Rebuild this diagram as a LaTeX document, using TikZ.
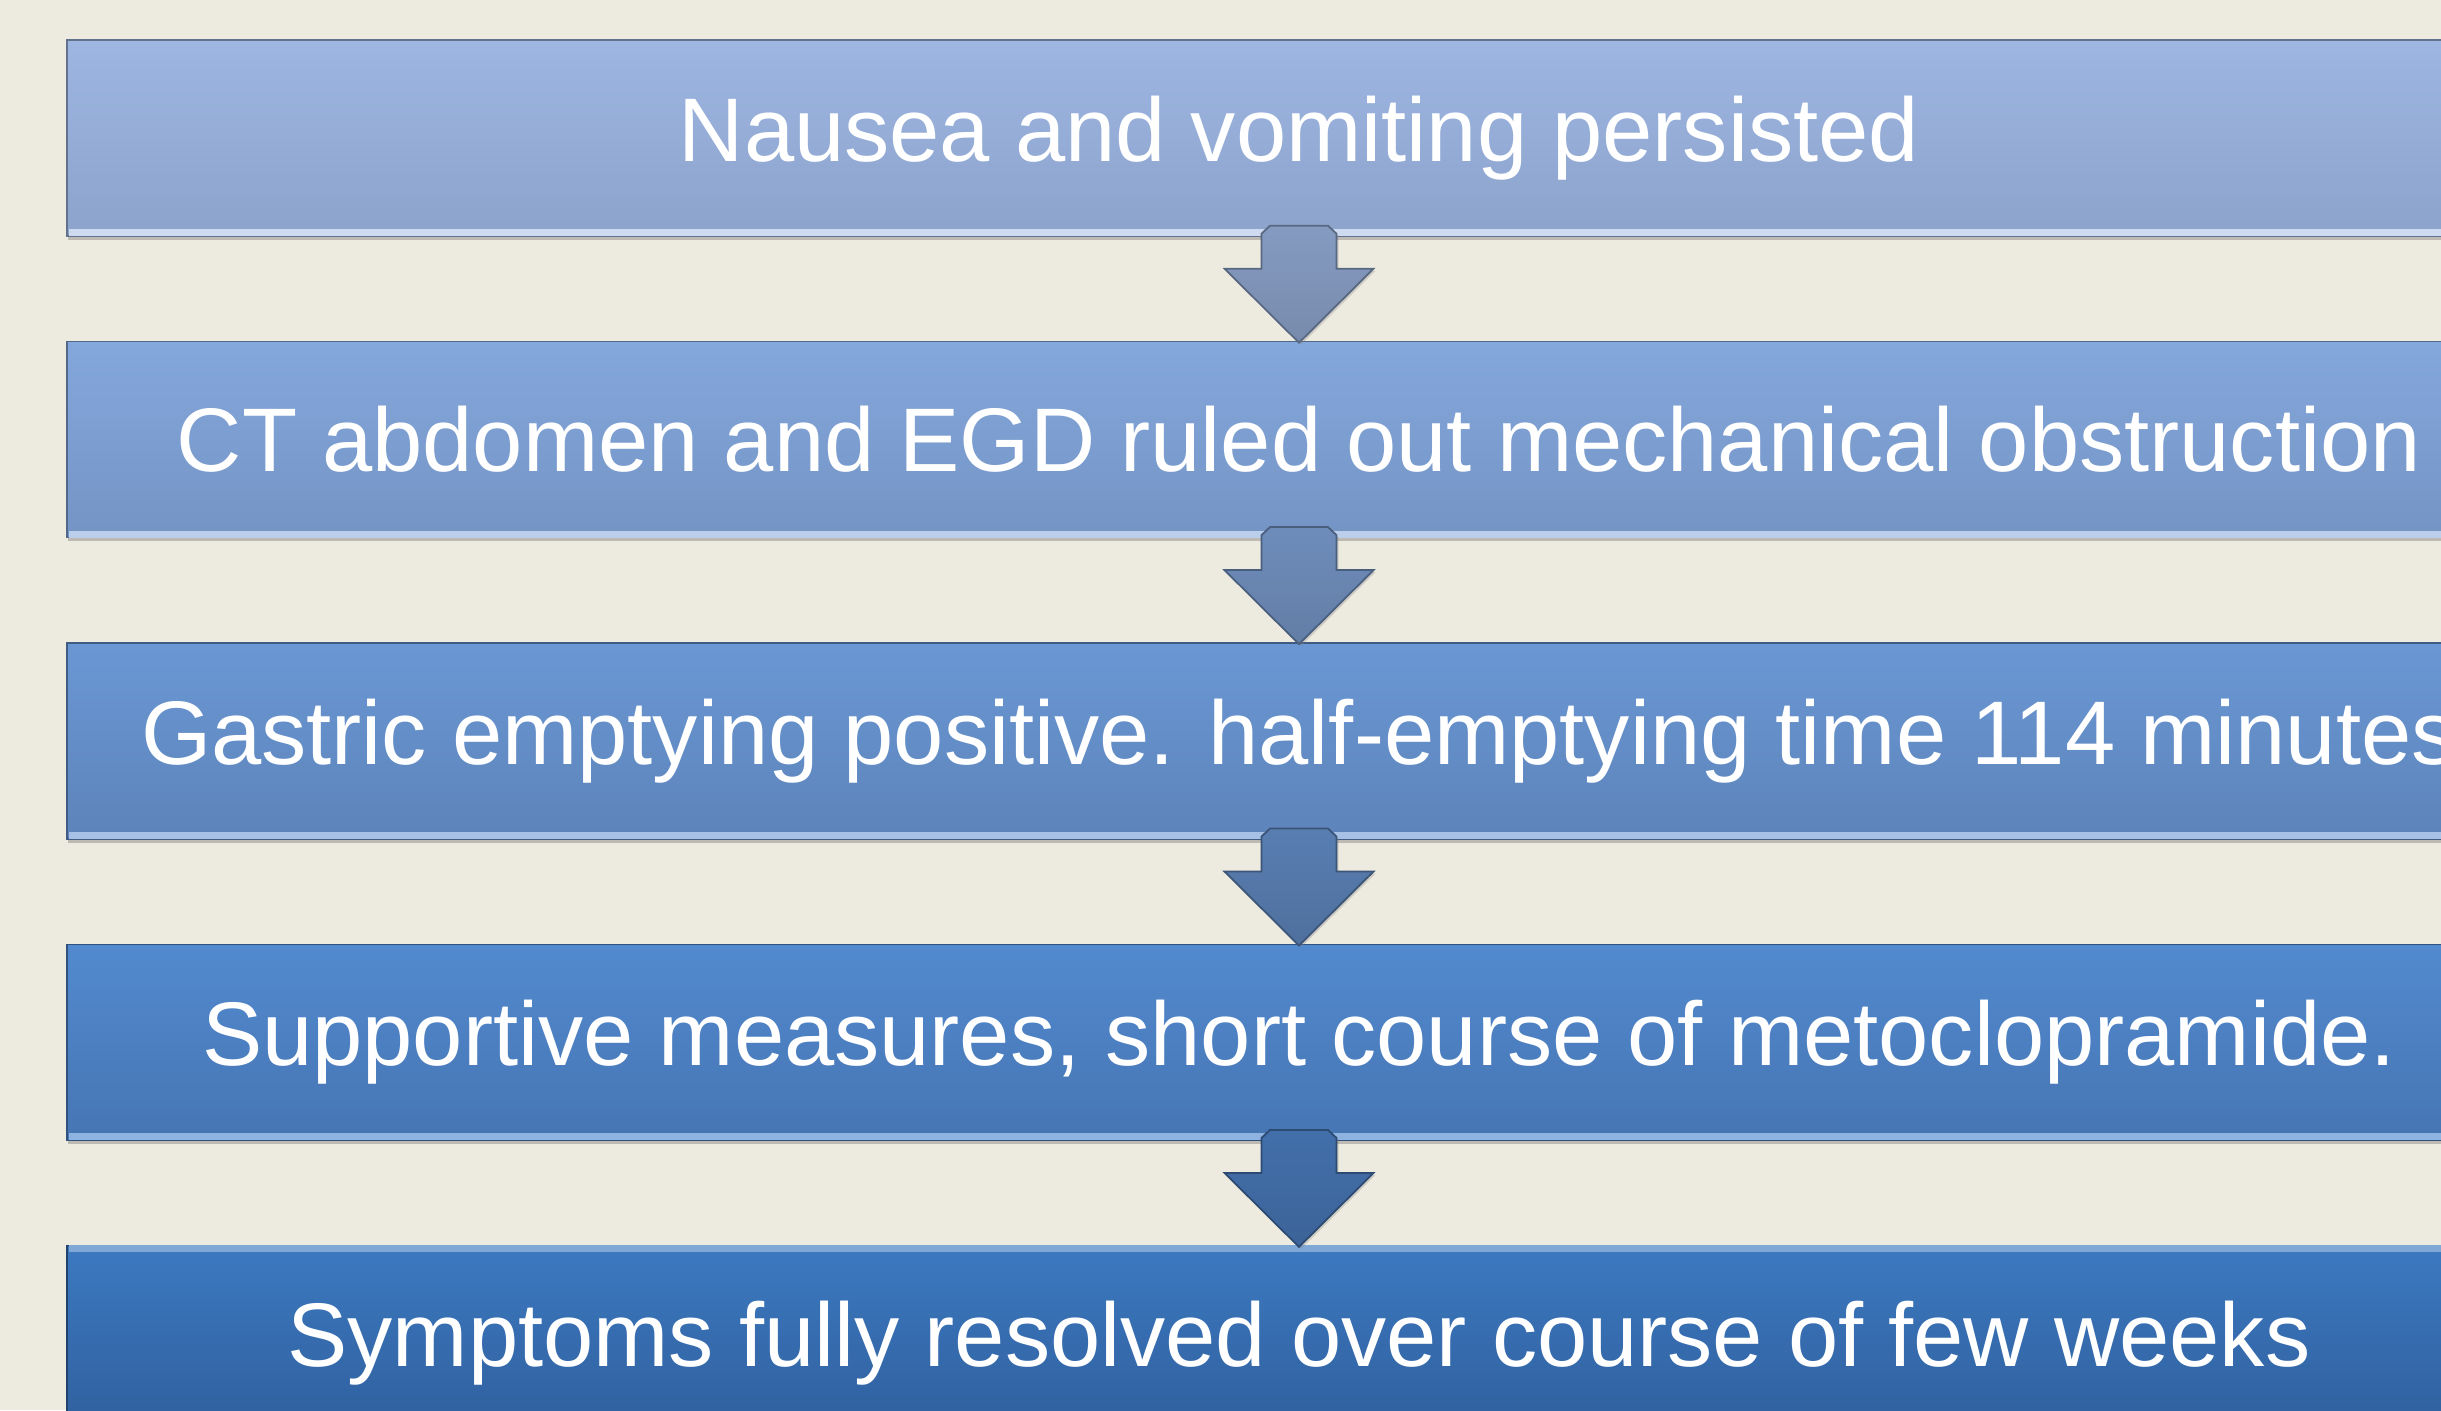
\documentclass[tikz,border=0pt]{standalone}
\usepackage{fontspec}
\setmainfont{Liberation Sans}
\usetikzlibrary{positioning}
\usetikzlibrary{calc}
\usetikzlibrary{shadows}
\definecolor{paper}{HTML}{EDEBE0}
\definecolor{topA}{HTML}{9DB6E2}
\definecolor{botA}{HTML}{8CA3CB}
\definecolor{topB}{HTML}{84A7DC}
\definecolor{botB}{HTML}{7494C4}
\definecolor{topC}{HTML}{6A97D4}
\definecolor{botC}{HTML}{5D84BA}
\definecolor{topD}{HTML}{528ACF}
\definecolor{botD}{HTML}{4675B3}
\definecolor{topE}{HTML}{3C79C0}
\definecolor{botE}{HTML}{2F5E9C}
\tikzset{%
  stage/.style = {rectangle,inner sep=0pt,text=white,
        minimum width=24.64cm,minimum height=1.96cm,
        font=\fontsize{25.7}{31}\selectfont,
        drop shadow={shadow xshift=0.01cm,shadow yshift=-0.04cm,
          opacity=0.3,fill=black!70}},
  shine/.style = {line width=2pt,line cap=butt}
}
% arrow between two stages: from, to, top colour, bottom colour
\newcommand{\stepdown}[4]{%
  \shade[top color=#3,bottom color=#4,draw=#4!75!black,line width=0.5pt,
      drop shadow={shadow xshift=0.02cm,shadow yshift=-0.02cm,opacity=0.3}]
    ($(#1.south)+(-0.29,0.11)$) -- ($(#1.south)+(-0.375,0.03)$)
    -- ($(#1.south)+(-0.375,-0.32)$) -- ($(#1.south)+(-0.745,-0.32)$)
    -- ($(#2.north)+(0,-0.02)$)
    -- ($(#1.south)+(0.745,-0.32)$) -- ($(#1.south)+(0.375,-0.32)$)
    -- ($(#1.south)+(0.375,0.03)$) -- ($(#1.south)+(0.29,0.11)$) -- cycle;}

\begin{document}
\begin{tikzpicture}[node distance=1.04cm]
        \clip (0,0) rectangle (24.41,14.10);
        \fill[paper] (0,0) rectangle (24.41,14.10);

        \node[stage,top color=topA,bottom color=botA,draw=botA!70!black]
            (nausea) at (12.99,12.72) {Nausea and vomiting persisted};
        \node[stage,top color=topB,bottom color=botB,draw=botB!70!black]
            (ct) [below=of nausea] {CT abdomen and EGD ruled out mechanical obstruction};
        \node[stage,top color=topC,bottom color=botC,draw=botC!70!black]
            (gastric) [below=of ct] {Gastric emptying positive. half-emptying time 114 minutes};
        \node[stage,top color=topD,bottom color=botD,draw=botD!70!black]
            (support) [below=of gastric] {Supportive measures, short course of metoclopramide.};
        \node[stage,top color=topE,bottom color=botE,draw=botE!70!black]
            (resolved) [below=of support] {Symptoms fully resolved over course of few weeks};

        % bottom bevel highlights
        \draw[shine,color=topA!50!white] ($(nausea.south west)+(0.03,0.04)$) -- ($(nausea.south east)+(0,0.04)$);
        \draw[shine,color=topB!55!white] ($(ct.south west)+(0.03,0.04)$) -- ($(ct.south east)+(0,0.04)$);
        \draw[shine,color=topC!60!white] ($(gastric.south west)+(0.03,0.04)$) -- ($(gastric.south east)+(0,0.04)$);
        \draw[shine,color=topD!65!white] ($(support.south west)+(0.03,0.04)$) -- ($(support.south east)+(0,0.04)$);
        \draw[shine,color=topE!65!white] ($(resolved.north west)+(0.03,-0.04)$) -- ($(resolved.north east)+(0,-0.04)$);

        \stepdown{nausea}{ct}{botA!95!black}{botA!85!black}
        \stepdown{ct}{gastric}{botB!95!black}{botB!85!black}
        \stepdown{gastric}{support}{botC!95!black}{botC!85!black}
        \stepdown{support}{resolved}{botD!95!black}{botD!85!black}

    \end{tikzpicture}
\end{document}
